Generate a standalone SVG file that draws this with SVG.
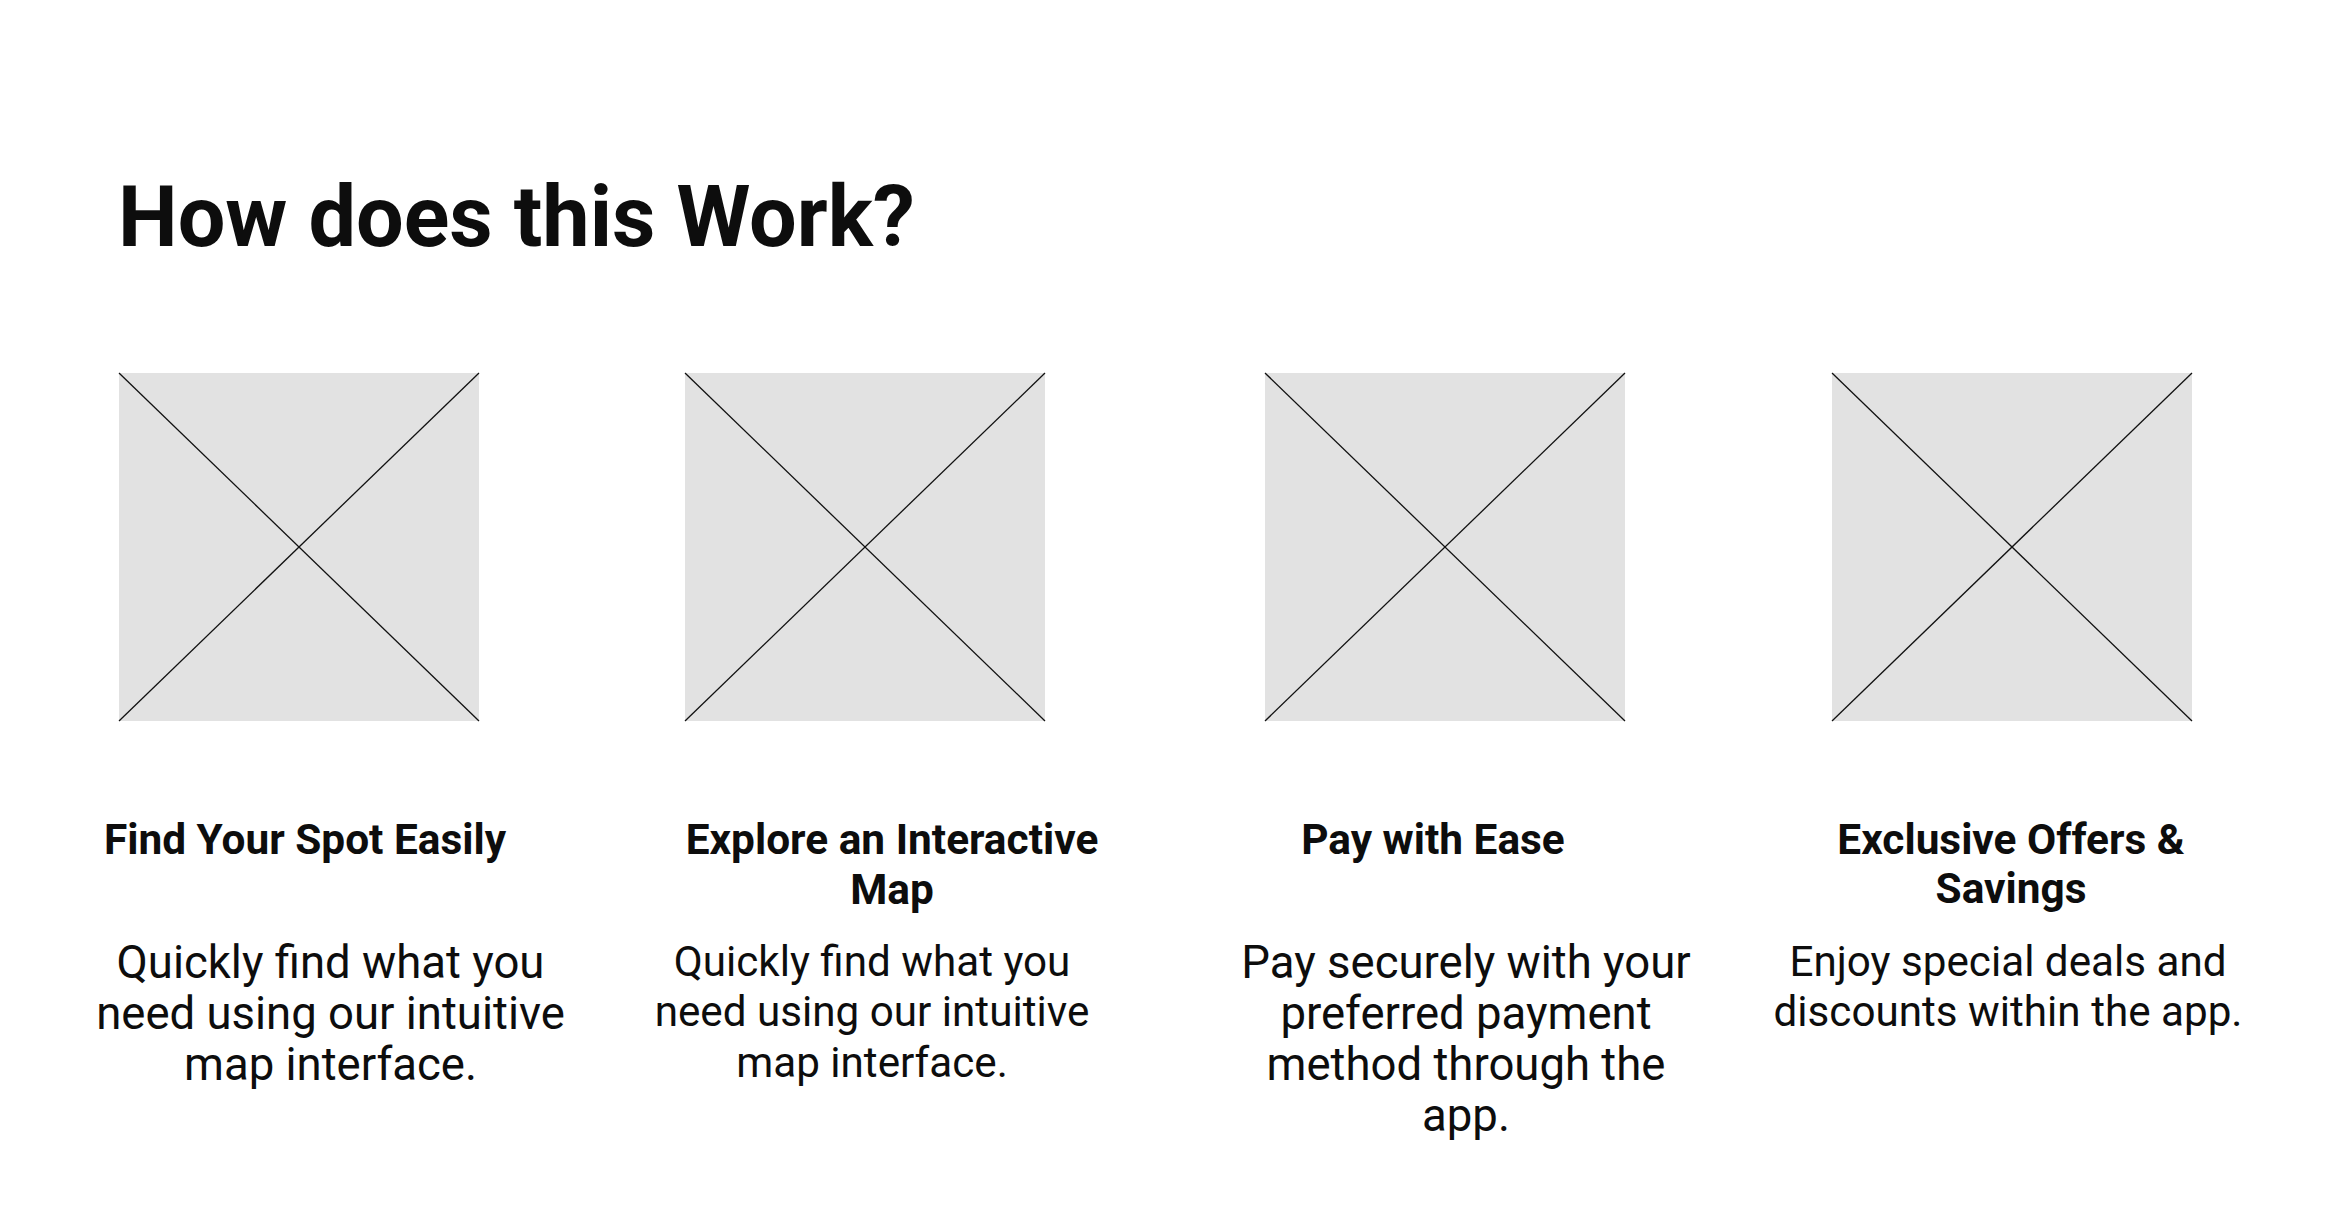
<svg xmlns="http://www.w3.org/2000/svg" width="2328" height="1230" viewBox="0 0 2328 1230">
<style>
.bg{fill:#ffffff}
.ph{fill:#e2e2e2}
.x{stroke:#111111;stroke-width:1.3;fill:none}
.title{font-family:Roboto,"Liberation Sans",sans-serif;font-weight:700;font-size:84.5px;fill:#0d0d0d}
.head{font-family:Roboto,"Liberation Sans",sans-serif;font-weight:700;font-size:42.4px;fill:#0d0d0d;text-anchor:middle}
.body{font-family:Roboto,"Liberation Sans",sans-serif;font-weight:400;fill:#0d0d0d;text-anchor:middle}
.lg{font-size:45.5px}
.sm{font-size:42.2px}
</style>
<rect class="bg" x="0" y="0" width="2328" height="1230"/>
<text id="title" class="title" x="118" y="246">How does this Work?</text>

<g id="card1">
<rect class="ph" x="119" y="373" width="360" height="348"/>
<line class="x" x1="119" y1="373" x2="479" y2="721"/>
<line class="x" x1="479" y1="373" x2="119" y2="721"/>
<text class="head" x="305" y="854">Find Your Spot Easily</text>
<text class="body lg" x="330.5" y="978">Quickly find what you</text>
<text class="body lg" x="330.5" y="1029">need using our intuitive</text>
<text class="body lg" x="330.5" y="1080">map interface.</text>
</g>

<g id="card2">
<rect class="ph" x="685" y="373" width="360" height="348"/>
<line class="x" x1="685" y1="373" x2="1045" y2="721"/>
<line class="x" x1="1045" y1="373" x2="685" y2="721"/>
<text class="head" x="892" y="854">Explore an Interactive</text>
<text class="head" x="892" y="903.5">Map</text>
<text class="body sm" x="872" y="975.5">Quickly find what you</text>
<text class="body sm" x="872" y="1026">need using our intuitive</text>
<text class="body sm" x="872" y="1076.5">map interface.</text>
</g>

<g id="card3">
<rect class="ph" x="1265" y="373" width="360" height="348"/>
<line class="x" x1="1265" y1="373" x2="1625" y2="721"/>
<line class="x" x1="1625" y1="373" x2="1265" y2="721"/>
<text class="head" x="1433" y="854">Pay with Ease</text>
<text class="body lg" x="1466" y="978">Pay securely with your</text>
<text class="body lg" x="1466" y="1029">preferred payment</text>
<text class="body lg" x="1466" y="1080">method through the</text>
<text class="body lg" x="1466" y="1131">app.</text>
</g>

<g id="card4">
<rect class="ph" x="1832" y="373" width="360" height="348"/>
<line class="x" x1="1832" y1="373" x2="2192" y2="721"/>
<line class="x" x1="2192" y1="373" x2="1832" y2="721"/>
<text class="head" x="2011" y="854">Exclusive Offers &amp;</text>
<text class="head" x="2011" y="903">Savings</text>
<text class="body sm" x="2008" y="975.5">Enjoy special deals and</text>
<text class="body sm" x="2008" y="1025.5">discounts within the app.</text>
</g>

<g id="connectors"></g>
</svg>
